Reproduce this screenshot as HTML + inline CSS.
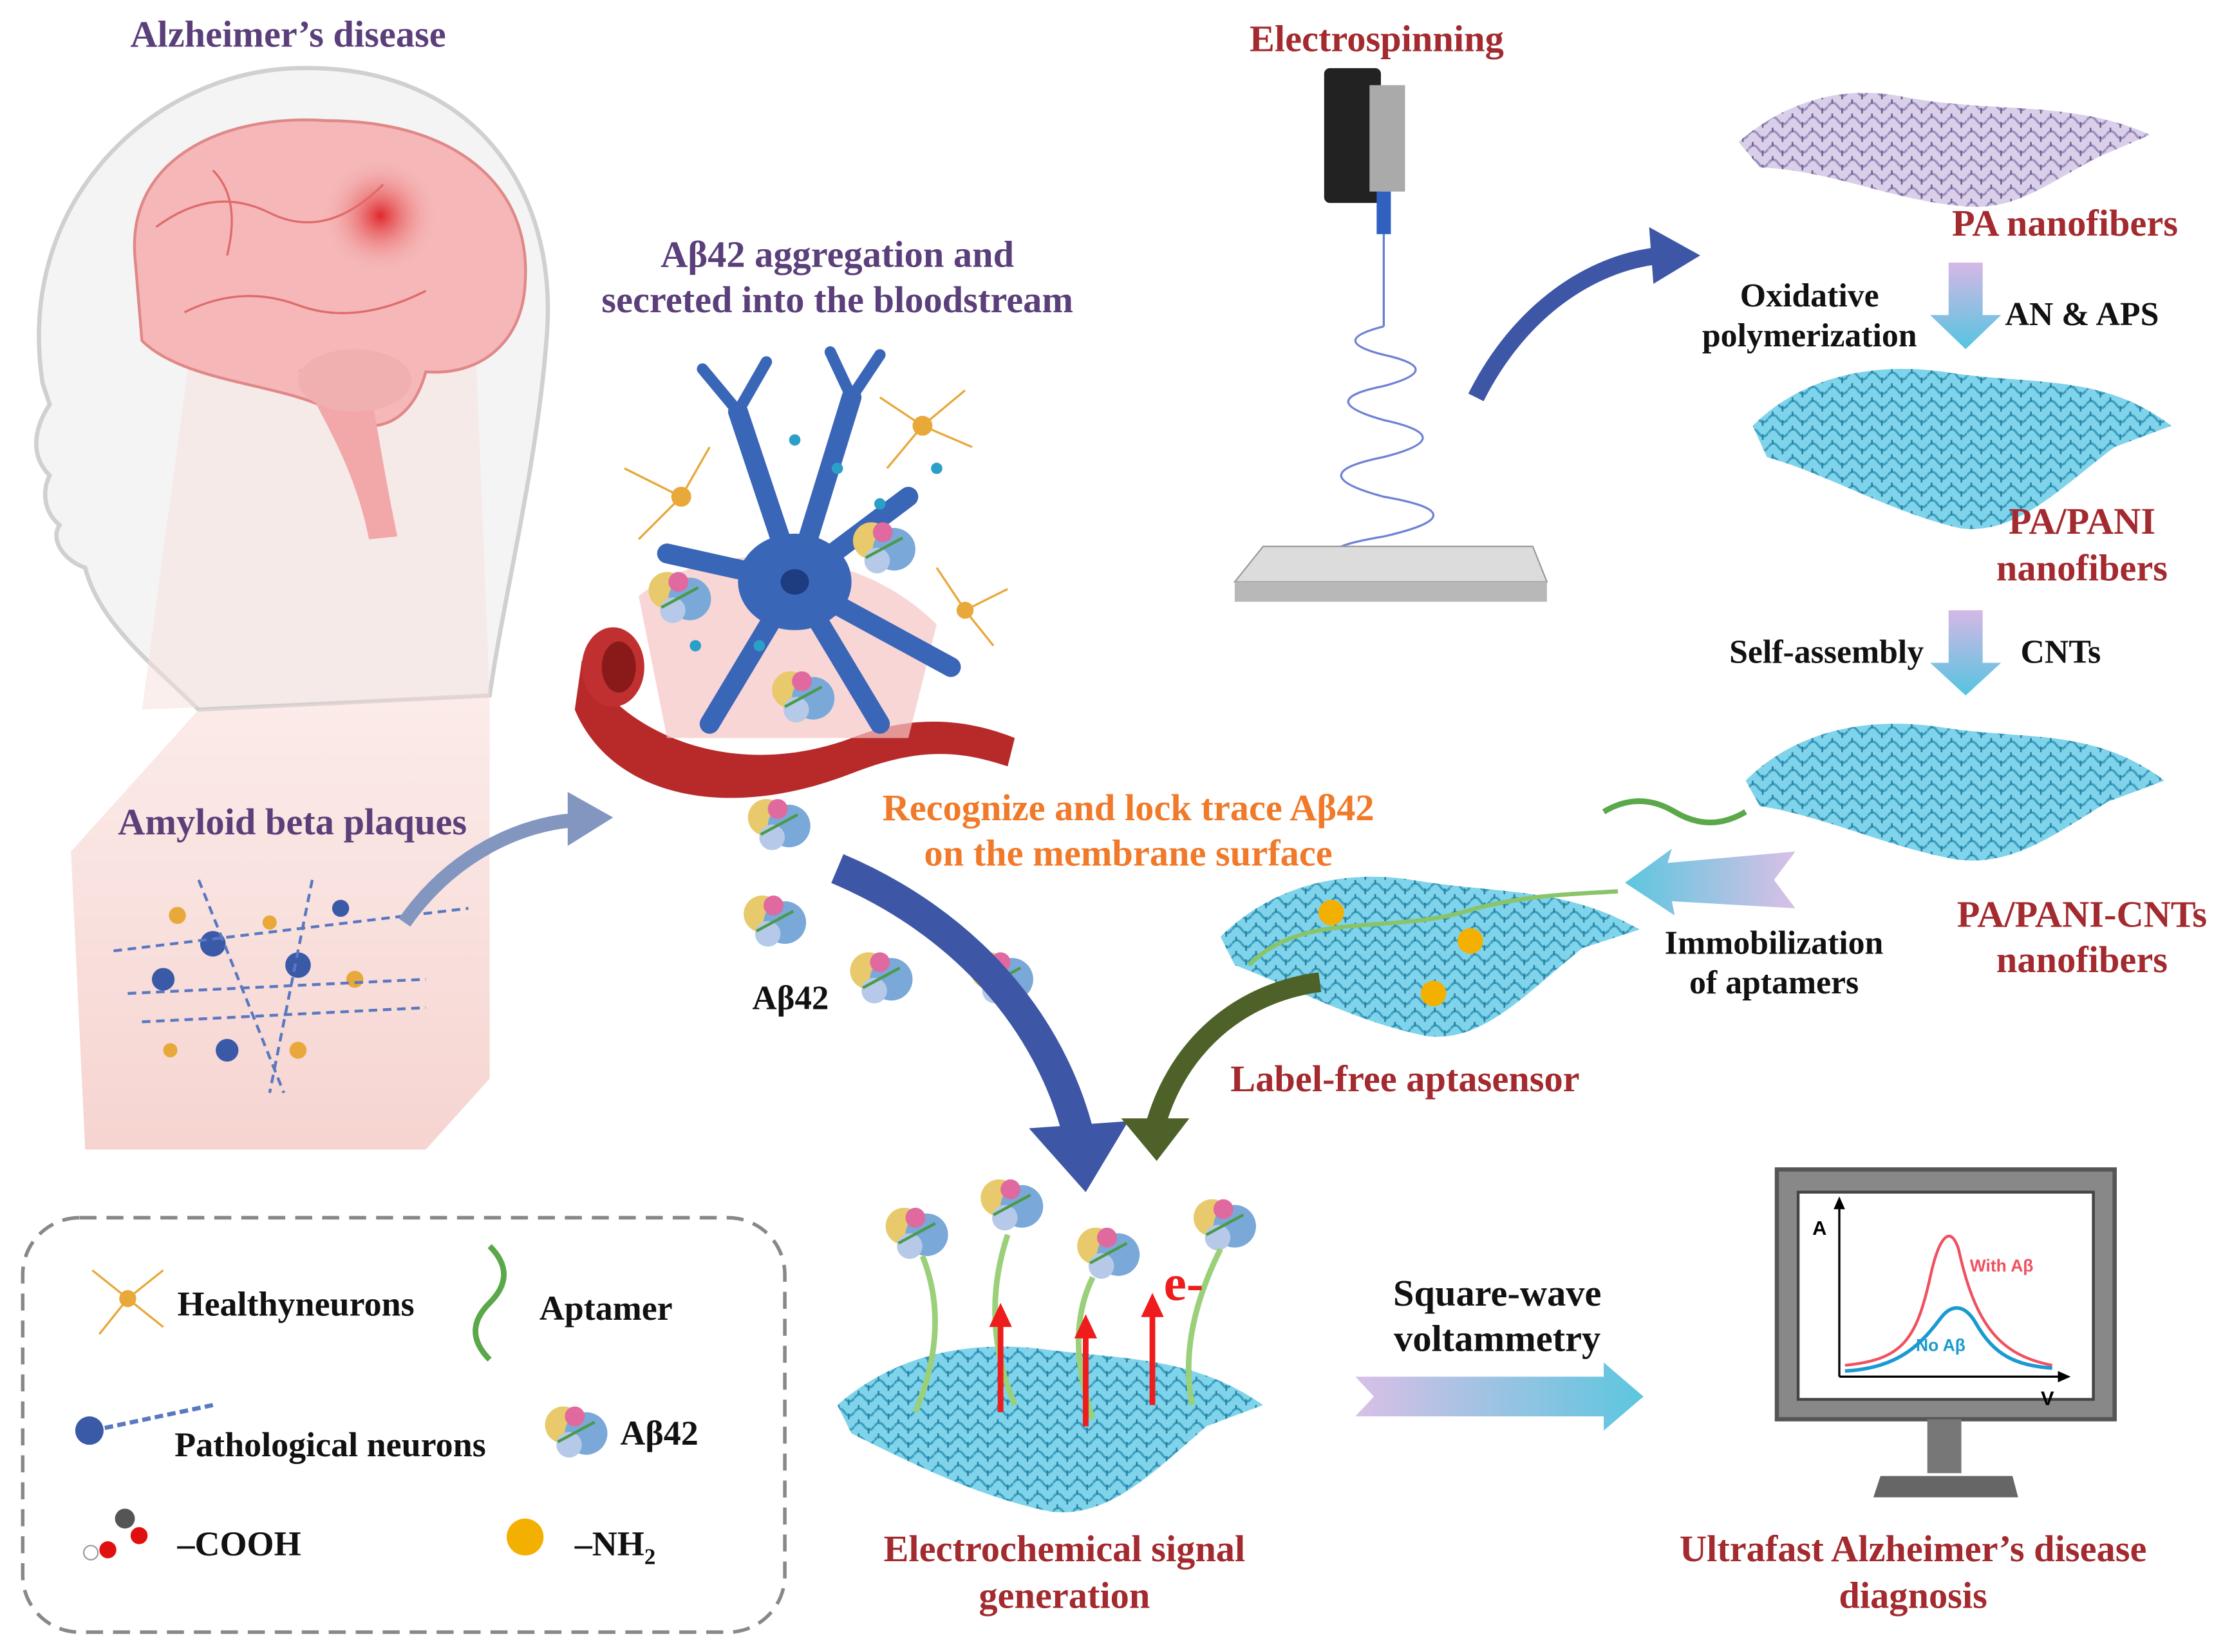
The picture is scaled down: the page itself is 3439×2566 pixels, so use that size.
<!DOCTYPE html>
<html><head><meta charset="utf-8"><style>
html,body{margin:0;padding:0;background:#fff}
svg{display:block}
text{font-family:"Liberation Serif",serif;font-weight:bold}
</style></head><body>
<svg width="3439" height="2566" viewBox="0 0 1560 1164" xmlns="http://www.w3.org/2000/svg">
<defs>
<radialGradient id="spot" cx="0.5" cy="0.5" r="0.5"><stop offset="0" stop-color="#e0282c"/><stop offset="1" stop-color="#f4b0b0" stop-opacity="0"/></radialGradient>
<linearGradient id="cone" x1="0" y1="0" x2="0" y2="1"><stop offset="0" stop-color="#f7d8d4" stop-opacity="0.5"/><stop offset="1" stop-color="#f6d4d0"/></linearGradient>
<linearGradient id="gv" x1="0" y1="0" x2="0" y2="1"><stop offset="0" stop-color="#d6b8e6"/><stop offset="1" stop-color="#55c4e0"/></linearGradient>
<linearGradient id="gh" x1="0" y1="0" x2="1" y2="0"><stop offset="0" stop-color="#d9c0e6"/><stop offset="1" stop-color="#5cc6df"/></linearGradient>
<linearGradient id="ghl" x1="1" y1="0" x2="0" y2="0"><stop offset="0" stop-color="#d9c0e6"/><stop offset="1" stop-color="#5cc6df"/></linearGradient>
<pattern id="mesh" width="14" height="10" patternUnits="userSpaceOnUse"><rect width="14" height="10" fill="#7fd3ea"/><path d="M0 5 q3.5 -5 7 0 t7 0" stroke="#3c9fbf" stroke-width="1.6" fill="none"/><path d="M3 0 v3 M10 6 v4" stroke="#2a7f9c" stroke-width="1.2"/></pattern>
<pattern id="meshp" width="14" height="10" patternUnits="userSpaceOnUse"><rect width="14" height="10" fill="#d9cfe8"/><path d="M0 5 q3.5 -5 7 0 t7 0" stroke="#9f8fbf" stroke-width="1.6" fill="none"/><path d="M3 0 v3 M10 6 v4" stroke="#6f5f8f" stroke-width="1.2"/></pattern>
<g id="ab"><circle cx="-8" cy="-4" r="13" fill="#e8c96c"/><circle cx="8" cy="2" r="15" fill="#7aa8d8"/><circle cx="0" cy="-10" r="7" fill="#e06aa0"/><circle cx="-4" cy="10" r="9" fill="#b6c9e8"/><path d="M-12 8 L14 -6" stroke="#4a9a4a" stroke-width="2"/></g>
</defs>

<!-- head -->
<path d="M30 270 C10 140 110 50 210 48 C330 45 395 130 385 240 C378 330 355 420 345 490 L140 500 C110 470 70 440 60 400 C45 395 35 380 42 370 C30 360 30 345 35 335 C20 320 25 300 35 285 Z" fill="#f4f4f4" stroke="#d0d0d0" stroke-width="3"/>
<path d="M140 500 L345 490 L345 760 L300 810 L60 810 L50 600 Z" fill="url(#cone)"/>
<path d="M100 500 L135 240 L335 240 L345 490 Z" fill="#f8e0de" opacity="0.5"/>
<!-- brain -->
<path d="M95 180 C90 110 160 80 230 85 C320 85 375 130 370 200 C368 240 340 265 300 262 C290 300 260 310 235 290 C200 270 130 270 100 240 Z" fill="#f5b7b7" stroke="#e08888" stroke-width="2"/>
<path d="M210 260 C230 300 250 330 260 380 L280 378 C270 330 265 295 260 270 Z" fill="#f2a8a8"/>
<ellipse cx="250" cy="268" rx="40" ry="22" fill="#f0b0b0"/>
<circle cx="268" cy="152" r="40" fill="url(#spot)"/>
<path d="M110 160 q40 -30 80 -10 t80 -20 M130 220 q40 -20 80 -5 t90 -10 M150 120 q20 20 10 60" stroke="#e06a6a" stroke-width="1.5" fill="none"/>

<!-- plaques -->
<g fill="#3a5aa8">
<circle cx="150" cy="665" r="9"/><circle cx="210" cy="680" r="9"/><circle cx="115" cy="690" r="8"/><circle cx="160" cy="740" r="8"/><circle cx="240" cy="640" r="6"/>
</g>
<g fill="#e8a83a"><circle cx="125" cy="645" r="6"/><circle cx="250" cy="690" r="6"/><circle cx="190" cy="650" r="5"/><circle cx="210" cy="740" r="6"/><circle cx="120" cy="740" r="5"/></g>
<path d="M80 670 L330 640 M90 700 L300 690 M100 720 L300 710 M140 620 L200 770 M220 620 L190 770" stroke="#5a78c0" stroke-width="2" stroke-dasharray="6 4" fill="none"/>
<path d="M285 650 C320 600 370 580 405 578" stroke="#8296c0" stroke-width="10" fill="none"/>
<path d="M400 558 L432 576 L400 596 Z" fill="#8296c0"/>

<!-- neuron cluster -->
<path d="M410 465 C440 520 520 550 600 520 C650 500 690 510 715 520 L710 540 C680 530 650 525 600 545 C510 580 430 560 405 500 Z" fill="#b82a2a"/>
<ellipse cx="432" cy="470" rx="22" ry="28" fill="#c03030"/><ellipse cx="436" cy="470" rx="12" ry="18" fill="#8a1a1a"/>
<path d="M450 420 C500 380 600 380 660 440 L640 520 L470 520 Z" fill="#f6c4c4" opacity="0.7"/>
<g stroke="#3a66b8" stroke-linecap="round" fill="none">
<path d="M560 410 L520 290 M560 410 L600 280 M560 410 L470 390 M560 410 L640 350 M560 410 L500 510 M560 410 L620 510 M560 410 L670 470" stroke-width="14"/>
<path d="M520 290 L495 260 M520 290 L540 255 M600 280 L620 250 M600 280 L585 248" stroke-width="8"/>
</g>
<ellipse cx="560" cy="410" rx="40" ry="34" fill="#3a66b8"/><ellipse cx="560" cy="410" rx="10" ry="9" fill="#1e3c80"/>
<g stroke="#e8a83a" stroke-width="1.5" fill="none"><path d="M650 300 l-30 -20 M650 300 l30 -25 M650 300 l-25 30 M650 300 l35 15 M480 350 l-40 -20 M480 350 l-30 30 M480 350 l20 -35 M680 430 l30 -15 M680 430 l20 25 M680 430 l-20 -30"/></g>
<circle cx="650" cy="300" r="7" fill="#e8a83a"/><circle cx="480" cy="350" r="7" fill="#e8a83a"/><circle cx="680" cy="430" r="6" fill="#e8a83a"/>
<g fill="#2aa0c8"><circle cx="560" cy="310" r="4"/><circle cx="590" cy="330" r="4"/><circle cx="620" cy="355" r="4"/><circle cx="660" cy="330" r="4"/><circle cx="490" cy="455" r="4"/><circle cx="535" cy="455" r="4"/></g>
<use href="#ab" x="478" y="420"/><use href="#ab" x="622" y="385"/><use href="#ab" x="565" y="490"/>
<use href="#ab" x="548" y="580"/><use href="#ab" x="545" y="648"/><use href="#ab" x="620" y="688"/><use href="#ab" x="705" y="688"/>

<!-- big blue arrow -->
<path d="M590 612 C680 650 740 720 760 800" stroke="#3d56a6" stroke-width="22" fill="none"/>
<path d="M725 795 L765 840 L795 790 Z" fill="#3d56a6"/>

<!-- electrospinning -->
<rect x="933" y="48" width="40" height="95" rx="4" fill="#222"/>
<rect x="965" y="60" width="25" height="75" fill="#aaa"/>
<rect x="970" y="135" width="10" height="30" fill="#3060c0"/>
<line x1="975" y1="165" x2="975" y2="230" stroke="#6a7ed0" stroke-width="1.5"/>
<path d="M975 230 q-40 10 0 20 q45 10 0 22 q-50 10 0 24 q55 12 0 26 q-60 12 0 28 q70 12 0 28 q-70 12 10 16" stroke="#7082d6" stroke-width="1.5" fill="none"/>
<path d="M890 385 L1080 385 L1090 410 L870 410 Z" fill="#dcdcdc" stroke="#999"/>
<rect x="870" y="410" width="220" height="14" fill="#b8b8b8"/>
<path d="M1040 280 C1070 220 1120 185 1170 180" stroke="#3d56a6" stroke-width="12" fill="none"/>
<path d="M1162 160 L1198 180 L1165 200 Z" fill="#3d56a6"/>

<!-- sheets -->
<path d="M1225 100 C1260 70 1300 60 1340 68 C1400 80 1460 70 1515 95 L1480 110 C1440 130 1420 150 1380 145 C1330 140 1290 120 1240 118 Z" fill="url(#meshp)"/>
<path d="M1235 300 C1270 265 1320 255 1370 262 C1430 272 1480 262 1530 300 L1490 315 C1450 345 1420 378 1380 372 C1330 360 1290 335 1245 322 Z" fill="url(#mesh)"/>
<path d="M1230 550 C1265 515 1315 505 1365 512 C1425 522 1475 512 1525 550 L1485 565 C1445 590 1415 612 1375 605 C1325 595 1285 575 1240 568 Z" fill="url(#mesh)"/>
<path d="M860 660 C895 625 945 612 995 620 C1055 630 1105 625 1155 655 L1115 668 C1075 700 1045 735 1005 730 C955 720 910 695 870 680 Z" fill="url(#mesh)"/>
<path d="M590 990 C630 955 680 945 730 950 C790 958 840 955 890 990 L850 1005 C810 1040 780 1070 740 1065 C690 1055 640 1030 600 1010 Z" fill="url(#mesh)"/>
<circle cx="938" cy="643" r="9" fill="#f4b000"/><circle cx="1036" cy="663" r="9" fill="#f4b000"/><circle cx="1010" cy="700" r="9" fill="#f4b000"/>
<path d="M880 680 C920 640 980 660 1040 640 C1080 630 1110 630 1140 628" stroke="#8ac46a" stroke-width="3" fill="none"/>
<path d="M1130 572 q25 -15 50 0 t50 0" stroke="#5aa84a" stroke-width="4" fill="none"/>

<!-- gradient arrows -->
<path d="M1373 185 L1397 185 L1397 222 L1410 222 L1385 246 L1360 222 L1373 222 Z" fill="url(#gv)"/>
<path d="M1373 430 L1397 430 L1397 467 L1410 467 L1385 490 L1360 467 L1373 467 Z" fill="url(#gv)"/>
<path d="M1265 600 L1175 608 L1178 598 L1145 622 L1180 645 L1178 635 L1265 640 L1250 620 Z" fill="url(#ghl)"/>
<path d="M955 970 L1130 970 L1130 960 L1158 984 L1130 1008 L1130 998 L955 998 L968 984 Z" fill="url(#gh)"/>
<!-- olive arrow -->
<path d="M930 692 C870 700 830 740 815 790" stroke="#4e6128" stroke-width="14" fill="none"/>
<path d="M790 788 L815 818 L838 788 Z" fill="#4e6128"/>

<!-- electrochemical -->
<use href="#ab" x="645" y="868"/><use href="#ab" x="712" y="848"/><use href="#ab" x="780" y="882"/><use href="#ab" x="862" y="862"/>
<g stroke="#9ad07a" stroke-width="4" fill="none"><path d="M650 885 q20 50 -5 110"/><path d="M710 870 q-20 60 5 120"/><path d="M770 900 q-20 40 0 100"/><path d="M860 880 q-30 60 -20 110"/></g>
<g stroke="#ee1c1c" stroke-width="4"><line x1="705" y1="995" x2="705" y2="932"/><line x1="765" y1="1005" x2="765" y2="940"/><line x1="812" y1="990" x2="812" y2="925"/></g>
<g fill="#ee1c1c"><path d="M697 935 L705 918 L713 935 Z"/><path d="M757 943 L765 926 L773 943 Z"/><path d="M804 928 L812 911 L820 928 Z"/></g>
<text x="820" y="916" font-size="36" fill="#ee1c1c">e-</text>

<!-- monitor -->
<rect x="1252" y="824" width="238" height="176" fill="#888" stroke="#555" stroke-width="3"/>
<rect x="1267" y="840" width="208" height="146" fill="#fff" stroke="#444" stroke-width="2"/>
<rect x="1358" y="1000" width="24" height="38" fill="#777"/>
<path d="M1325 1040 L1418 1040 L1422 1055 L1320 1055 Z" fill="#666"/>
<line x1="1296" y1="970" x2="1296" y2="848" stroke="#000" stroke-width="1.5"/><path d="M1292 852 L1296 843 L1300 852 Z"/>
<line x1="1296" y1="970" x2="1455" y2="970" stroke="#000" stroke-width="1.5"/><path d="M1450 966 L1459 970 L1450 974 Z"/>
<path d="M1300 962 C1340 958 1350 945 1360 900 C1366 872 1374 862 1380 880 C1392 935 1410 955 1446 962" stroke="#f05060" stroke-width="2" fill="none"/>
<path d="M1300 966 C1340 964 1355 945 1368 928 C1376 918 1385 920 1392 932 C1405 955 1420 962 1446 964" stroke="#1a9ad0" stroke-width="2.5" fill="none"/>
<text x="1277" y="870" font-size="14" style="font-family:'Liberation Sans',sans-serif">A</text>
<text x="1438" y="990" font-size="14" style="font-family:'Liberation Sans',sans-serif">V</text>
<text x="1388" y="896" font-size="12" fill="#f05060" style="font-family:'Liberation Sans',sans-serif">With Aβ</text>
<text x="1350" y="952" font-size="12" fill="#1a9ad0" style="font-family:'Liberation Sans',sans-serif">No Aβ</text>

<!-- legend -->
<rect x="16" y="858" width="537" height="292" rx="40" fill="none" stroke="#888" stroke-width="2.5" stroke-dasharray="12 7"/>
<g stroke="#e8a83a" stroke-width="1.5"><path d="M90 915 l-25 -20 M90 915 l25 -20 M90 915 l-20 25 M90 915 l25 20"/></g><circle cx="90" cy="915" r="6" fill="#e8a83a"/>
<path d="M345 878 q20 20 0 40 t0 40" stroke="#5aa84a" stroke-width="4" fill="none"/>
<path d="M65 1008 L150 990" stroke="#5a78c0" stroke-width="3" stroke-dasharray="6 3"/><circle cx="63" cy="1008" r="10" fill="#3a5aa8"/>
<use href="#ab" x="405" y="1008"/>
<circle cx="88" cy="1070" r="7" fill="#555"/><circle cx="98" cy="1082" r="6" fill="#e01010"/><circle cx="76" cy="1092" r="6" fill="#e01010"/><circle cx="64" cy="1094" r="5" fill="#fff" stroke="#999"/>
<circle cx="370" cy="1083" r="13" fill="#f4b000"/>

<!-- texts -->
<g font-size="26.5" text-anchor="middle">
<text x="203" y="33" fill="#5b3f7a">Alzheimer’s disease</text>
<text x="590" y="188" fill="#5b3f7a">Aβ42 aggregation and</text>
<text x="590" y="220" fill="#5b3f7a">secreted into the bloodstream</text>
<text x="970" y="36" fill="#a32a2e">Electrospinning</text>
<text x="1455" y="166" fill="#a32a2e">PA nanofibers</text>
<text x="1275" y="216" fill="#111" font-size="23.5">Oxidative</text>
<text x="1275" y="244" fill="#111" font-size="23.5">polymerization</text>
<text x="1467" y="229" fill="#111" font-size="23.5">AN &amp; APS</text>
<text x="1467" y="376" fill="#a32a2e">PA/PANI</text>
<text x="1467" y="409" fill="#a32a2e">nanofibers</text>
<text x="1287" y="467" fill="#111" font-size="23.5">Self-assembly</text>
<text x="1452" y="467" fill="#111" font-size="23.5">CNTs</text>
<text x="1467" y="653" fill="#a32a2e">PA/PANI-CNTs</text>
<text x="1467" y="685" fill="#a32a2e">nanofibers</text>
<text x="1250" y="672" fill="#111" font-size="23.5">Immobilization</text>
<text x="1250" y="700" fill="#111" font-size="23.5">of aptamers</text>
<text x="795" y="578" fill="#f07a2a">Recognize and lock trace Aβ42</text>
<text x="795" y="610" fill="#f07a2a">on the membrane surface</text>
<text x="206" y="588" fill="#5b3f7a">Amyloid beta plaques</text>
<text x="557" y="711" fill="#111" font-size="24">Aβ42</text>
<text x="990" y="769" fill="#a32a2e">Label-free aptasensor</text>
<text x="1055" y="920" fill="#111">Square-wave</text>
<text x="1055" y="952" fill="#111">voltammetry</text>
<text x="750" y="1100" fill="#a32a2e">Electrochemical signal</text>
<text x="750" y="1133" fill="#a32a2e">generation</text>
<text x="1348" y="1100" fill="#a32a2e">Ultrafast Alzheimer’s disease</text>
<text x="1348" y="1133" fill="#a32a2e">diagnosis</text>
</g>
<g font-size="24.5" fill="#111">
<text x="125" y="927">Healthyneurons</text>
<text x="380" y="930">Aptamer</text>
<text x="123" y="1026">Pathological neurons</text>
<text x="437" y="1018">Aβ42</text>
<text x="125" y="1096">–COOH</text>
<text x="405" y="1096">–NH<tspan font-size="16" dy="6">2</tspan></text>
</g>
</svg>
</body></html>
